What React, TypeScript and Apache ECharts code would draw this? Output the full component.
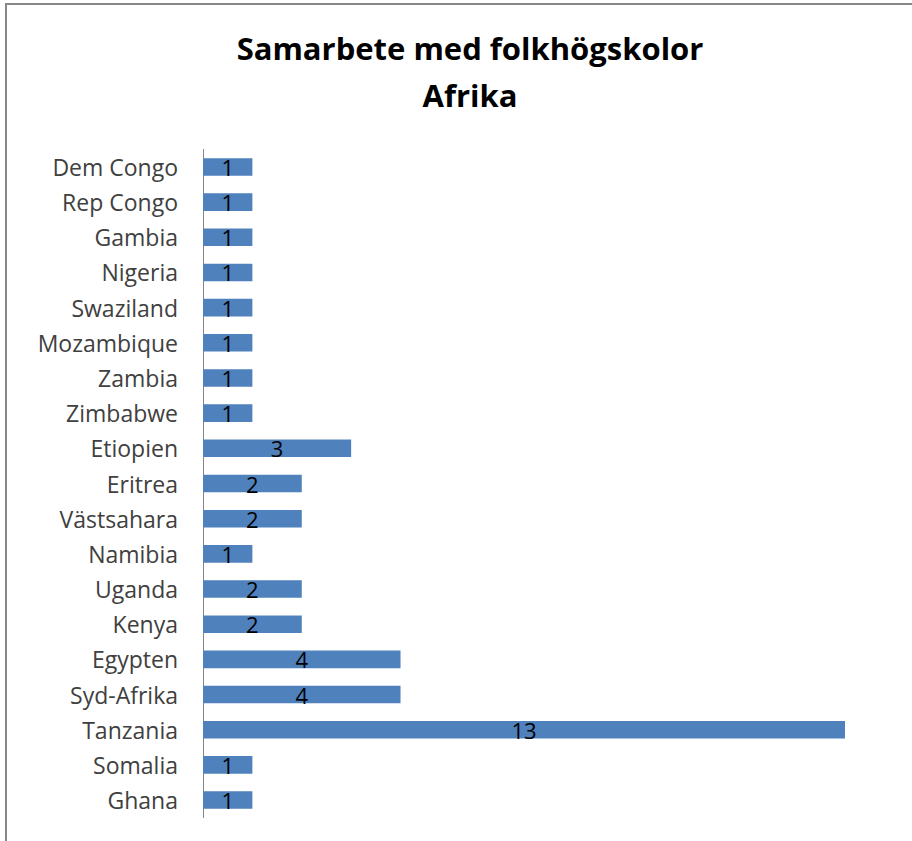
import React, { useEffect, useRef } from "react";
import * as echarts from "echarts";

const categories = [
  "Ghana", "Somalia", "Tanzania", "Syd-Afrika", "Egypten", "Kenya", "Uganda",
  "Namibia", "Västsahara", "Eritrea", "Etiopien", "Zimbabwe", "Zambia",
  "Mozambique", "Swaziland", "Nigeria", "Gambia", "Rep Congo", "Dem Congo",
];
const values = [1, 1, 13, 4, 4, 2, 2, 1, 2, 2, 3, 1, 1, 1, 1, 1, 1, 1, 1];
const titleLines = ["Samarbete med folkhögskolor", "Afrika"];

export default function App() {
  const ref = useRef<HTMLDivElement>(null);
  useEffect(() => {
    if (!ref.current) return;
    const chart = echarts.init(ref.current, null, { renderer: "svg" });
    chart.setOption({
      animation: false,
      backgroundColor: "#ffffff",
      title: {
        text: titleLines.join("\n"),
        left: 465,
        textAlign: "center",
        top: 19,
        textStyle: {
          fontFamily: "Open Sans",
          fontWeight: "bold",
          fontSize: 31,
          lineHeight: 47,
          color: "#000000",
        },
      },
      graphic: [
        {
          type: "rect",
          shape: { x: 6, y: 4, width: 1200, height: 1200 },
          style: { fill: "none", stroke: "#878787", lineWidth: 2 },
          silent: true,
        },
      ],
      grid: { left: 203, right: 67, top: 149.4, bottom: 23.4 },
      xAxis: {
        type: "value",
        min: 0,
        max: 13,
        show: false,
        splitLine: { show: false },
      },
      yAxis: {
        type: "category",
        data: categories,
        axisLine: { show: true, lineStyle: { color: "#868686", width: 1 } },
        axisTick: { show: false },
        axisLabel: {
          fontFamily: "Open Sans",
          fontSize: 23,
          color: "#404040",
          margin: 25,
        },
      },
      series: [
        {
          type: "bar",
          data: values,
          barCategoryGap: "50%",
          itemStyle: { color: "#4F81BD" },
          label: {
            show: true,
            position: "inside",
            fontFamily: "Open Sans",
            fontSize: 22,
            color: "#000000",
          },
        },
      ],
    });
    return () => chart.dispose();
  }, []);
  return (
    <div
      ref={ref}
      style={{ position: "fixed", left: 0, top: 0, width: 912, height: 841 }}
    />
  );
}
